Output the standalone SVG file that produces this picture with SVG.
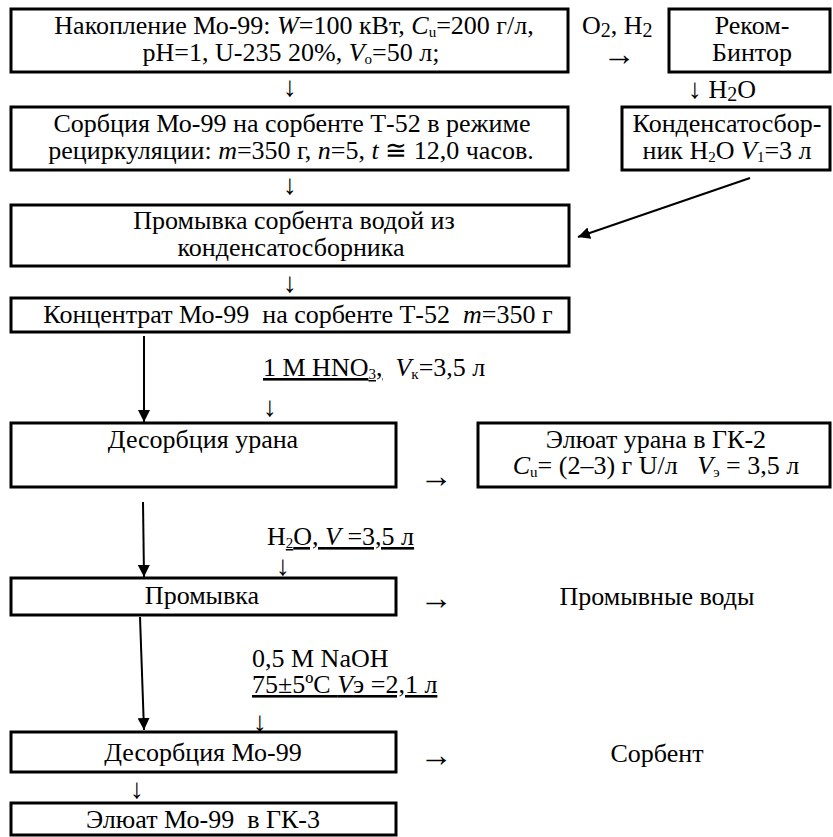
<svg xmlns="http://www.w3.org/2000/svg" width="833" height="837" viewBox="0 0 833 837">
<style>
.c{text-anchor:middle}
.box{fill:#fff;stroke:#000;stroke-width:3}
.i{font-style:italic}
.s{font-size:15px}
.sb{font-size:20px}
.u{text-decoration:underline}
.ln{stroke:#000;stroke-width:2;fill:none}
.ar{font-size:28px}
.ra{font-size:33px}
</style>
<defs>
<marker id="ah" viewBox="0 0 10 10" refX="10" refY="5" markerWidth="6" markerHeight="6" orient="auto" markerUnits="strokeWidth">
<path d="M0,0 L10,5 L0,10 z" fill="#000"/>
</marker>
</defs>
<rect width="833" height="837" fill="#fff"/>
<g font-family="'Liberation Serif', serif" font-size="26" fill="#000">

<g id="n1">
<rect class="box" x="11" y="9" width="557" height="63"/>
<text class="c" x="294" y="34">Накопление Мо-99: <tspan class="i">W</tspan>=100 кВт, <tspan class="i">C</tspan><tspan class="s" dy="3">u</tspan><tspan dy="-3">=200 г/л,</tspan></text>
<text class="c" x="291" y="61">pH=1, U-235 20%, <tspan class="i">V</tspan><tspan class="s" dy="3">o</tspan><tspan dy="-3">=50 л;</tspan></text>
</g>

<g id="n2">
<rect class="box" x="11" y="107" width="557" height="63"/>
<text class="c" x="292" y="132">Сорбция Мо-99 на сорбенте Т-52 в режиме</text>
<text class="c" x="291" y="159">рециркуляции: <tspan class="i">m</tspan>=350 г, <tspan class="i">n</tspan>=5, <tspan class="i">t</tspan> ≅ 12,0 часов.</text>
</g>

<g id="n3">
<rect class="box" x="11" y="205" width="558" height="61"/>
<text class="c" x="294" y="229">Промывка сорбента водой из</text>
<text class="c" x="291" y="256">конденсатосборника</text>
</g>

<g id="n4">
<rect class="box" x="11" y="298" width="558" height="34"/>
<text class="c" x="298" y="323" xml:space="preserve">Концентрат Мо-99  на сорбенте Т-52  <tspan class="i">m</tspan>=350 г</text>
</g>

<g id="n5">
<rect class="box" x="669" y="9" width="161" height="63"/>
<text class="c" x="752" y="34">Реком-</text>
<text class="c" x="752" y="61">Бинтор</text>
</g>

<g id="n6">
<rect class="box" x="622" y="107" width="208" height="63"/>
<text class="c" x="727" y="132">Конденсатосбор-</text>
<text class="c" x="727" y="159">ник H<tspan class="s" dy="3">2</tspan><tspan dy="-3">O </tspan><tspan class="i">V</tspan><tspan class="s" dy="3">1</tspan><tspan dy="-3">=3 л</tspan></text>
</g>

<g id="n7">
<rect class="box" x="11" y="423" width="385" height="64"/>
<text class="c" x="203" y="448">Десорбция урана</text>
</g>

<g id="n8">
<rect class="box" x="478" y="423" width="352" height="64"/>
<text class="c" x="656" y="448">Элюат урана в ГК-2</text>
<text class="c" x="656" y="474" xml:space="preserve"><tspan class="i">C</tspan><tspan class="s" dy="3">u</tspan><tspan dy="-3">= (2–3) г U/л   </tspan><tspan class="i">V</tspan><tspan class="s" dy="3">э</tspan><tspan dy="-3"> = 3,5 л</tspan></text>
</g>

<g id="n9">
<rect class="box" x="11" y="578" width="385" height="37"/>
<text class="c" x="202" y="604">Промывка</text>
</g>

<g id="n10">
<text class="c" x="657" y="605">Промывные воды</text>
</g>

<g id="n11">
<rect class="box" x="11" y="732" width="385" height="40"/>
<text class="c" x="203" y="761">Десорбция Мо-99</text>
</g>

<g id="n12">
<text class="c" x="657" y="762">Сорбент</text>
</g>

<g id="n13">
<rect class="box" x="11" y="803" width="385" height="32"/>
<text class="c" x="203" y="828" xml:space="preserve">Элюат Мо-99  в ГК-3</text>
</g>

<g id="connectors">
<text class="c ar" x="290" y="96">↓</text>
<text x="582" y="34">O<tspan class="sb" dy="3">2</tspan><tspan dy="-3">, H</tspan><tspan class="sb" dy="3">2</tspan></text>
<text class="c ra" x="619" y="65">→</text>
<text x="688" y="98"><tspan class="ar">↓</tspan> H<tspan class="sb" dy="3">2</tspan><tspan dy="-3">O</tspan></text>
<text class="c ar" x="290" y="194">↓</text>
<line class="ln" x1="750" y1="178" x2="578" y2="237" marker-end="url(#ah)"/>
<text class="c ar" x="290" y="292">↓</text>

<line class="ln" x1="144" y1="336" x2="144" y2="422" marker-end="url(#ah)"/>
<text x="263" y="376" xml:space="preserve"><tspan class="u">1 М HNO<tspan class="s" dy="3">3</tspan><tspan dy="-3">,</tspan></tspan>  <tspan class="i">V</tspan><tspan class="s" dy="3">к</tspan><tspan dy="-3">=3,5 л</tspan></text>
<text class="c ar" x="270" y="416">↓</text>
<text class="c ra" x="436" y="487">→</text>

<line class="ln" x1="143" y1="502" x2="144" y2="577" marker-end="url(#ah)"/>
<text x="267" y="545">H<tspan class="s u" dy="3">2</tspan><tspan class="u" dy="-3">O, </tspan><tspan class="i u">V</tspan><tspan class="u"> =3,5 л</tspan></text>
<text class="c ar" x="283" y="575">↓</text>
<text class="c ra" x="436" y="609">→</text>

<line class="ln" x1="140" y1="617" x2="144" y2="730" marker-end="url(#ah)"/>
<text x="252" y="667">0,5 М NaOH</text>
<text x="252" y="693" class="u">75±5ºC <tspan class="i">V</tspan>э =2,1 л</text>
<text class="c ar" x="260" y="731">↓</text>
<text class="c ra" x="436" y="766">→</text>

<text class="c ar" x="137" y="798">↓</text>
</g>
</g>
</svg>
